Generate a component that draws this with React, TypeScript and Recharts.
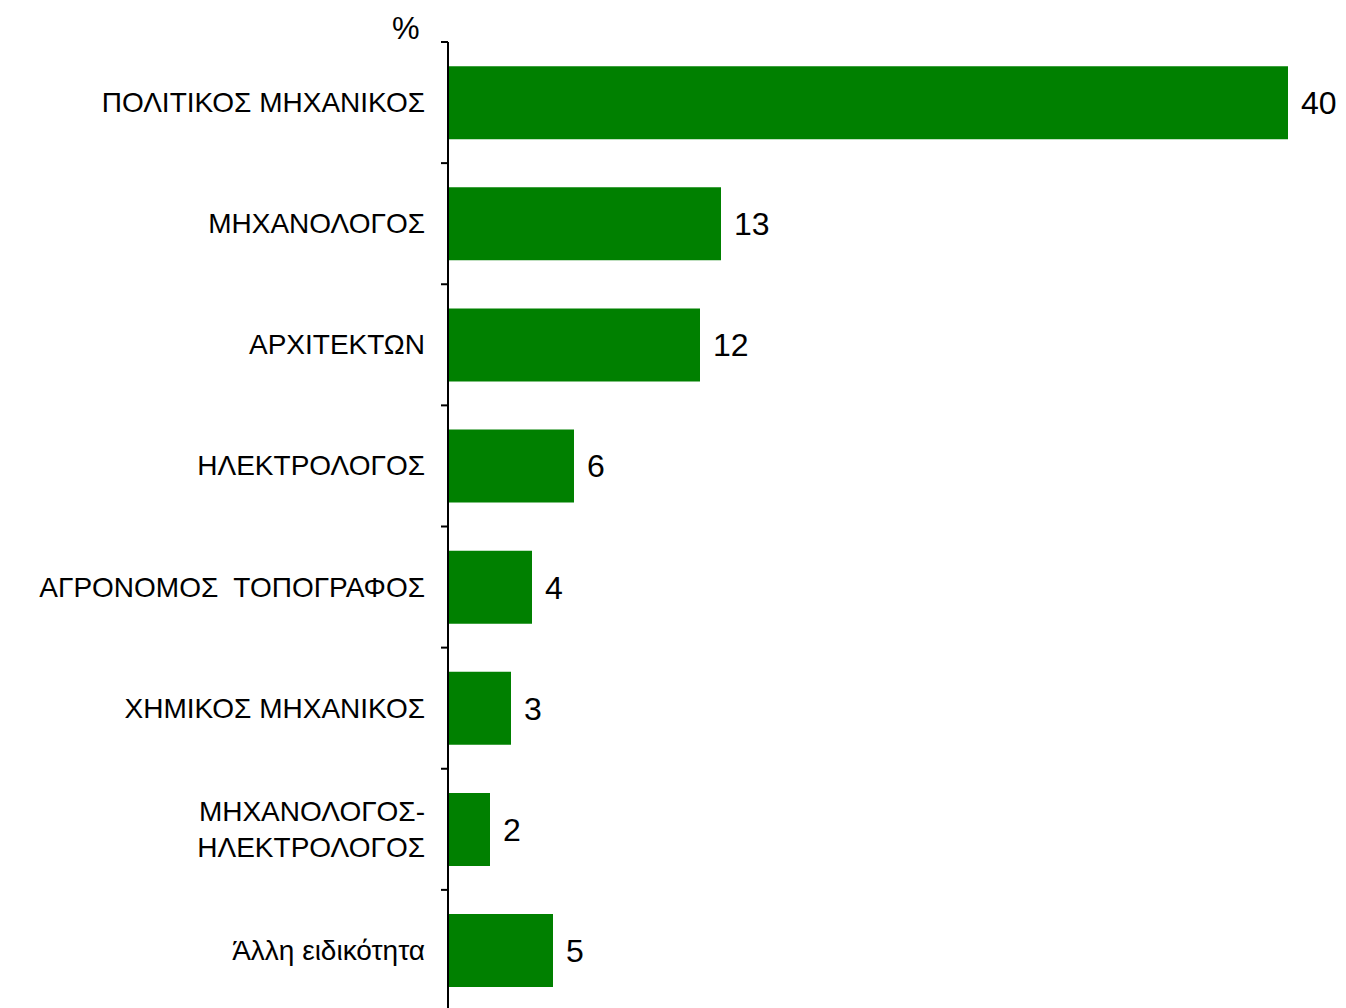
import { BarChart, Bar, XAxis, YAxis, LabelList } from "recharts"

const specialties = [
  "ΠΟΛΙΤΙΚΟΣ ΜΗΧΑΝΙΚΟΣ",
  "ΜΗΧΑΝΟΛΟΓΟΣ",
  "ΑΡΧΙΤΕΚΤΩΝ",
  "ΗΛΕΚΤΡΟΛΟΓΟΣ",
  "ΑΓΡΟΝΟΜΟΣ\u00a0 ΤΟΠΟΓΡΑΦΟΣ",
  "ΧΗΜΙΚΟΣ ΜΗΧΑΝΙΚΟΣ",
  "ΜΗΧΑΝΟΛΟΓΟΣ-\nΗΛΕΚΤΡΟΛΟΓΟΣ",
  "Άλλη ειδικότητα",
]

const shares = [40, 13, 12, 6, 4, 3, 2, 5]

const data = specialties.map((name, i) => ({ name, value: shares[i] }))

const FONT = "'Liberation Sans', Arial, sans-serif"
const TICK_MARGIN = 16

function CategoryTick(props: any) {
  const { x, y, payload } = props
  const lines: string[] = String(payload.value).split("\n")
  const half = payload.offset ?? 0
  const lineHeight = 36
  const startDy = -((lines.length - 1) / 2) * lineHeight
  const axisX = x + TICK_MARGIN + 7
  return (
    <g>
      <line x1={axisX - 7} x2={axisX} y1={y - half} y2={y - half} stroke="#000" strokeWidth={2} />
      <text
        x={x}
        y={y}
        textAnchor="end"
        fill="#000"
        fontFamily={FONT}
        fontSize={28}
      >
        {lines.map((line, i) => (
          <tspan key={i} x={x} dy={i === 0 ? startDy + 9.5 : lineHeight}>
            {line}
          </tspan>
        ))}
      </text>
    </g>
  )
}

export default function App() {
  return (
    <div
      style={{
        position: "absolute",
        left: 0,
        top: 0,
        width: 1346,
        height: 1008,
        overflow: "hidden",
        background: "#fff",
        fontFamily: FONT,
      }}
    >
      <div
        style={{
          position: "absolute",
          left: 392,
          top: 11,
          fontSize: 31,
          lineHeight: "36px",
          color: "#000",
        }}
      >
        %
      </div>
      <BarChart
        width={1346}
        height={1011}
        data={data}
        layout="vertical"
        barCategoryGap="20%"
        margin={{ top: 42, right: 58, left: 0, bottom: 0 }}
      >
        <XAxis type="number" domain={[0, 40]} hide />
        <YAxis
          type="category"
          dataKey="name"
          width={448}
          axisLine={{ stroke: "#000", strokeWidth: 2 }}
          tickLine={false}
          tickSize={7}
          tickMargin={TICK_MARGIN}
          tick={<CategoryTick />}
          interval={0}
        />
        <Bar dataKey="value" fill="#008000" isAnimationActive={false}>
          <LabelList
            dataKey="value"
            position="right"
            offset={13}
            fill="#000"
            fontSize={32}
            fontFamily={FONT}
          />
        </Bar>
      </BarChart>
    </div>
  )
}
